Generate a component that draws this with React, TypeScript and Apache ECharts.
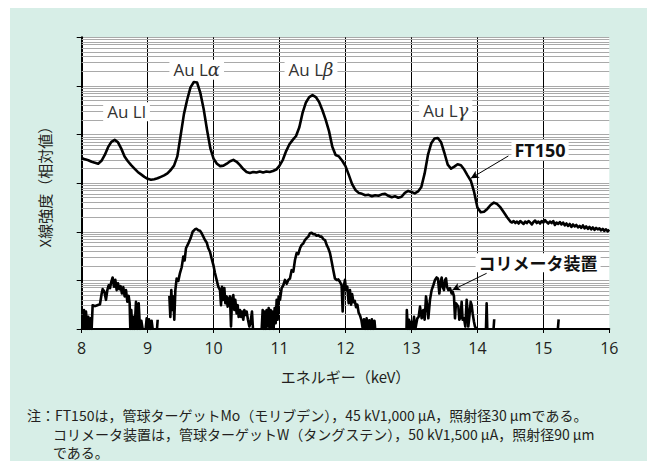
import React, { useEffect, useRef } from 'react';
import * as echarts from 'echarts';

// Energy axis (keV)
const xMin = 8;
const xMax = 16;
// Intensity axis, in decades of relative intensity (log10)
const yMin = 0;
const yMax = 6;

// FT150 spectrum: [keV, log10 relative intensity]
const ft150: [number, number][] = [
  [8.0, 3.52], [8.05, 3.49], [8.1, 3.47], [8.15, 3.44], [8.2, 3.42], [8.25, 3.4],
  [8.3, 3.46], [8.35, 3.58], [8.4, 3.74], [8.45, 3.85], [8.5, 3.89], [8.55, 3.84],
  [8.6, 3.71], [8.65, 3.55], [8.7, 3.45], [8.75, 3.37], [8.8, 3.3], [8.85, 3.23],
  [8.9, 3.18], [8.95, 3.13], [9.0, 3.09], [9.05, 3.07], [9.1, 3.08], [9.15, 3.1],
  [9.2, 3.13], [9.25, 3.16], [9.3, 3.2], [9.35, 3.27], [9.4, 3.36], [9.45, 3.55],
  [9.5, 3.98], [9.55, 4.42], [9.6, 4.72], [9.65, 4.97], [9.7, 5.08], [9.75, 5.07],
  [9.8, 4.85], [9.85, 4.52], [9.9, 4.1], [9.95, 3.72], [10.0, 3.5], [10.05, 3.4],
  [10.1, 3.35], [10.15, 3.36], [10.2, 3.4], [10.25, 3.45], [10.3, 3.48], [10.35, 3.44],
  [10.4, 3.37], [10.45, 3.29], [10.5, 3.23], [10.55, 3.21], [10.6, 3.23], [10.65, 3.22],
  [10.7, 3.24], [10.75, 3.22], [10.8, 3.24], [10.85, 3.23], [10.9, 3.25], [10.95, 3.28],
  [11.0, 3.36], [11.05, 3.48], [11.1, 3.66], [11.15, 3.8], [11.2, 3.89], [11.25, 3.97],
  [11.3, 4.15], [11.35, 4.45], [11.4, 4.66], [11.45, 4.77], [11.5, 4.81], [11.55, 4.77],
  [11.6, 4.67], [11.65, 4.5], [11.7, 4.3], [11.75, 4.07], [11.8, 3.75], [11.85, 3.58],
  [11.9, 3.55], [11.95, 3.46], [12.0, 3.35], [12.05, 3.17], [12.1, 2.98], [12.15, 2.86],
  [12.2, 2.8], [12.25, 2.78], [12.3, 2.75], [12.35, 2.76], [12.4, 2.73], [12.45, 2.75],
  [12.5, 2.74], [12.55, 2.77], [12.6, 2.78], [12.65, 2.74], [12.7, 2.71], [12.75, 2.73],
  [12.8, 2.7], [12.85, 2.72], [12.9, 2.8], [12.95, 2.84], [13.0, 2.82], [13.05, 2.79],
  [13.1, 2.83], [13.15, 2.92], [13.2, 3.2], [13.25, 3.58], [13.3, 3.82], [13.35, 3.92],
  [13.4, 3.93], [13.45, 3.84], [13.5, 3.62], [13.55, 3.38], [13.6, 3.3], [13.65, 3.34],
  [13.7, 3.39], [13.75, 3.37], [13.8, 3.28], [13.85, 3.16], [13.9, 3.05], [13.95, 2.82],
  [14.0, 2.5], [14.05, 2.4], [14.1, 2.41], [14.15, 2.47], [14.2, 2.55], [14.25, 2.6],
  [14.3, 2.57], [14.35, 2.5], [14.4, 2.4], [14.45, 2.3], [14.5, 2.21], [14.525, 2.19],
  [14.55, 2.22], [14.575, 2.18], [14.6, 2.21], [14.625, 2.17], [14.65, 2.22], [14.675, 2.19],
  [14.7, 2.16], [14.725, 2.21], [14.75, 2.18], [14.775, 2.22], [14.8, 2.19], [14.825, 2.15],
  [14.85, 2.2], [14.875, 2.23], [14.9, 2.18], [14.925, 2.21], [14.95, 2.17], [14.975, 2.22],
  [15.0, 2.19], [15.025, 2.24], [15.05, 2.2], [15.075, 2.17], [15.1, 2.21], [15.125, 2.18],
  [15.15, 2.22], [15.175, 2.14], [15.2, 2.19], [15.225, 2.16], [15.25, 2.2], [15.275, 2.15],
  [15.3, 2.19], [15.325, 2.13], [15.35, 2.17], [15.375, 2.12], [15.4, 2.16], [15.425, 2.1],
  [15.45, 2.15], [15.475, 2.11], [15.5, 2.14], [15.525, 2.09], [15.55, 2.12], [15.575, 2.08],
  [15.6, 2.13], [15.625, 2.07], [15.65, 2.11], [15.675, 2.06], [15.7, 2.1], [15.725, 2.05],
  [15.75, 2.09], [15.775, 2.04], [15.8, 2.08], [15.825, 2.05], [15.85, 2.07], [15.875, 2.03],
  [15.9, 2.06], [15.925, 2.02], [15.95, 2.05], [15.975, 2.01], [16.0, 2.04],
];

// Collimator spectrum: [keV, log10 relative intensity]; null = no counts (line break)
const collimator: ([number, number] | null)[] = [
  [8.015, 0.01], [8.035, 0.39], [8.055, 0.0], [8.065, 0.36], [8.085, 0.0], [8.1, 0.25],
  [8.116, 0.0], [8.136, 0.22], [8.151, 0.0], [8.166, 0.49], [8.202, 0.47], [8.237, 0.49],
  [8.277, 0.51], [8.303, 0.73], [8.318, 0.82], [8.343, 0.77], [8.368, 0.6], [8.389, 0.8],
  [8.409, 0.9], [8.429, 0.84], [8.449, 0.97], [8.469, 1.06], [8.49, 0.87], [8.51, 1.01],
  [8.53, 0.8], [8.55, 0.94], [8.57, 0.82], [8.59, 0.88], [8.61, 0.73], [8.631, 0.86],
  [8.651, 0.67], [8.672, 0.8], [8.692, 0.56], [8.712, 0.68], [8.727, 0.53], [8.737, 0.0],
  [8.752, 0.39], [8.768, 0.0], [8.783, 0.25], [8.803, 0.0], [8.823, 0.56], [8.843, 0.0],
  [8.864, 0.53], [8.884, 0.0], [8.904, 0.17], [8.924, 0.0], null,
  [8.97, 0.0], [8.985, 0.22], [9.0, 0.0], [9.02, 0.2], [9.04, 0.0], [9.06, 0.17], [9.076, 0.0], null,
  [9.142, 0.0], [9.152, 0.19], null,
  [9.329, 0.68], [9.344, 0.25], [9.359, 0.8], [9.374, 0.39], [9.389, 0.67], [9.404, 0.19],
  [9.42, 0.8], [9.44, 1.04], [9.465, 0.99], [9.49, 1.15], [9.516, 1.27], [9.541, 1.49],
  [9.561, 1.41], [9.581, 1.66], [9.617, 1.76], [9.652, 1.87], [9.682, 2.0], [9.718, 2.05],
  [9.743, 2.06], [9.768, 2.03], [9.794, 2.02], [9.819, 1.97], [9.844, 1.9], [9.869, 1.83],
  [9.895, 1.78], [9.92, 1.66], [9.945, 1.59], [9.97, 1.45], [9.996, 1.32], [10.021, 1.15],
  [10.046, 1.01], [10.071, 0.87], [10.097, 0.8], [10.112, 0.49], [10.127, 0.87], [10.147, 0.6],
  [10.163, 0.84], [10.178, 0.53], [10.198, 0.67], [10.213, 0.46], [10.228, 0.61], [10.248, 0.67],
  [10.264, 0.05], [10.279, 0.6], [10.299, 0.7], [10.314, 0.39], [10.329, 0.6], [10.349, 0.32],
  [10.365, 0.49], [10.38, 0.25], [10.4, 0.39], [10.415, 0.25], [10.43, 0.36], [10.45, 0.19],
  [10.466, 0.39], [10.486, 0.29], [10.501, 0.36], [10.521, 0.19], [10.542, 0.05], [10.562, 0.15],
  [10.582, 0.36], [10.597, 0.0], null,
  [10.729, 0.0], [10.744, 0.39], [10.759, 0.0], [10.774, 0.36], [10.789, 0.0], [10.804, 0.39],
  [10.82, 0.05], [10.835, 0.43], [10.85, 0.0], [10.865, 0.39], [10.88, 0.01], [10.895, 0.36],
  [10.91, 0.0], [10.926, 0.43], [10.941, 0.12], [10.956, 0.6], [10.971, 0.19], [10.986, 0.67],
  [11.007, 0.6], [11.032, 0.84], [11.057, 0.9], [11.082, 1.01], [11.108, 0.93], [11.133, 1.01],
  [11.158, 1.04], [11.183, 1.21], [11.209, 1.18], [11.234, 1.42], [11.259, 1.56], [11.284, 1.54],
  [11.31, 1.66], [11.335, 1.73], [11.36, 1.76], [11.385, 1.83], [11.411, 1.87], [11.436, 1.9],
  [11.461, 1.97], [11.486, 1.98], [11.512, 1.95], [11.537, 1.95], [11.562, 1.92], [11.588, 1.93],
  [11.613, 1.9], [11.638, 1.9], [11.663, 1.85], [11.689, 1.83], [11.714, 1.73], [11.739, 1.66],
  [11.765, 1.56], [11.79, 1.39], [11.815, 1.21], [11.84, 1.04], [11.866, 1.01], [11.891, 1.02],
  [11.916, 0.97], [11.941, 0.9], [11.957, 0.36], [11.972, 0.87], [11.992, 1.01], [12.007, 0.8],
  [12.027, 0.87], [12.048, 0.53], [12.068, 0.8], [12.085, 0.5], [12.1, 0.72], [12.12, 0.55],
  [12.14, 0.58], [12.16, 0.45], [12.18, 0.5], [12.2, 0.33], [12.22, 0.28], [12.24, 0.19],
  [12.26, 0.02], [12.28, 0.2], [12.3, 0.0], [12.32, 0.22], [12.34, 0.0], [12.36, 0.18],
  [12.38, 0.0], [12.4, 0.2], [12.42, 0.0], [12.44, 0.17], [12.45, 0.0], null,
  [12.925, 0.0], [12.93, 0.39], [12.945, 0.0], [12.963, 0.19], [12.978, 0.0], [12.998, 0.15],
  [13.018, 0.0], [13.039, 0.25], [13.059, 0.0], [13.089, 0.22], [13.109, 0.25], [13.13, 0.46],
  [13.155, 0.22], [13.18, 0.39], [13.2, 0.19], [13.221, 0.67], [13.241, 0.46], [13.256, 0.22],
  [13.281, 0.6], [13.306, 0.8], [13.332, 0.9], [13.357, 1.01], [13.382, 1.06], [13.402, 1.04],
  [13.423, 0.73], [13.443, 0.97], [13.458, 1.06], [13.473, 0.87], [13.493, 0.8], [13.509, 1.01],
  [13.524, 1.04], [13.539, 0.87], [13.559, 0.8], [13.584, 0.84], [13.61, 0.73], [13.625, 0.77],
  [13.645, 0.67], [13.66, 0.22], [13.675, 0.53], [13.696, 0.49], [13.711, 0.46], [13.726, 0.19],
  [13.746, 0.25], [13.761, 0.56], [13.776, 0.19], [13.797, 0.22], [13.817, 0.05], [13.837, 0.6],
  [13.852, 0.36], [13.862, 0.05], [13.878, 0.25], [13.898, 0.56], [13.913, 0.49], [13.928, 0.32],
  [13.948, 0.15], [13.963, 0.05], [13.989, 0.0], null,
  [14.13, 0.0], [14.14, 0.53], [14.15, 0.0], null,
  [14.245, 0.0], [14.255, 0.2], null,
  [15.22, 0.0], [15.232, 0.2],
];

const peakNames = ['Au Ll', 'Au Lα', 'Au Lβ', 'Au Lγ'];
const seriesNames = ['FT150', 'コリメータ装置'];
const noteLines = [
  '注：FT150は，管球ターゲットMo（モリブデン），45 kV1,000 µA，照射径30 µmである。',
  'コリメータ装置は，管球ターゲットW（タングステン），50 kV1,500 µA，照射径90 µm',
  'である。',
];

const FONT = "'Noto Sans CJK JP', 'Noto Sans', sans-serif";
const LATIN = "'Open Sans', 'Noto Sans', sans-serif";
const INK = '#231f20';
const GRID_GRAY = '#a9a9a9';

export default function App() {
  const ref = useRef<HTMLDivElement>(null);

  useEffect(() => {
    if (!ref.current) return;
    const chart = echarts.init(ref.current, undefined, { renderer: 'svg' });

    // log-style minor gridlines inside each decade
    const minorLines: { yAxis: number }[] = [];
    for (let n = yMin; n < yMax; n++) {
      for (let k = 2; k <= 9; k++) minorLines.push({ yAxis: n + Math.log10(k) });
    }

    const peakLabel = (name: string) => {
      const base = name.slice(0, -1);
      const last = name.slice(-1);
      const greek = /[αβγ]/.test(last);
      return greek ? `{n|${base}}{g|${last}}` : `{n|${name}}`;
    };

    const peakPos: [number, number][] = [
      [8.68, 4.47],
      [9.744, 5.33],
      [11.477, 5.33],
      [13.52, 4.5],
    ];

    const labelRich = {
      n: { fontSize: 17, fontFamily: LATIN, color: '#333' },
      g: { fontSize: 18, fontFamily: 'DejaVu Serif, serif', fontStyle: 'italic', color: '#333' },
    };

    const noteStyle = {
      fill: INK,
      fontFamily: FONT,
      fontSize: 14,
      lineHeight: 18.5,
      verticalAlign: 'middle',
    };

    chart.setOption({
      animation: false,
      grid: {
        left: 81.7,
        right: 37.7,
        top: 37.3,
        bottom: 132,
        show: true,
        backgroundColor: '#ffffff',
        borderWidth: 0,
      },
      xAxis: {
        type: 'value',
        min: xMin,
        max: xMax,
        interval: 1,
        name: 'エネルギー（keV）',
        nameLocation: 'middle',
        nameGap: 40,
        nameTextStyle: { fontFamily: FONT, fontSize: 15, color: INK },
        axisLine: { show: true, onZero: false, lineStyle: { color: '#000', width: 2 } },
        axisTick: { show: true, length: 4, lineStyle: { color: '#000', width: 1 } },
        axisLabel: { fontFamily: LATIN, fontSize: 16, color: INK, margin: 11 },
        splitLine: {
          show: true,
          showMinLine: false,
          showMaxLine: false,
          lineStyle: { color: '#000', width: 1 },
        },
      },
      yAxis: {
        type: 'value',
        min: yMin,
        max: yMax,
        interval: 1,
        name: 'X線強度（相対値）',
        nameLocation: 'middle',
        nameRotate: 90,
        nameGap: 30,
        nameTextStyle: { fontFamily: FONT, fontSize: 15, color: INK },
        axisLine: { show: true, lineStyle: { color: '#000', width: 2 } },
        axisTick: { show: true, length: 5, lineStyle: { color: '#000', width: 1 } },
        axisLabel: { show: false },
        splitLine: { show: true, lineStyle: { color: GRID_GRAY, width: 1 } },
      },
      series: [
        {
          name: seriesNames[1],
          type: 'line',
          data: collimator,
          showSymbol: false,
          symbol: 'none',
          connectNulls: false,
          z: 3,
          lineStyle: { color: '#000', width: 2.6, join: 'round' },
          markLine: {
            z: 1,
            silent: true,
            symbol: ['none', 'none'],
            label: { show: false },
            lineStyle: { color: GRID_GRAY, width: 1, type: 'solid' },
            emphasis: { disabled: true },
            data: minorLines,
          },
          markPoint: {
            silent: true,
            symbol: 'rect',
            symbolSize: 1,
            itemStyle: { color: 'rgba(0,0,0,0)' },
            label: {
              show: true,
              position: 'inside',
              fontFamily: FONT,
              fontSize: 17,
              fontWeight: 'bold',
              color: '#111',
              backgroundColor: '#fff',
              padding: [1, 3],
              formatter: (p: any) => p.name,
            },
            data: [{ name: seriesNames[1], coord: [14.92, 1.364] }],
          },
        },
        {
          name: seriesNames[0],
          type: 'line',
          data: ft150,
          showSymbol: false,
          symbol: 'none',
          z: 3,
          lineStyle: { color: '#000', width: 2.6, join: 'round' },
          markLine: {
            silent: true,
            symbol: ['none', 'arrow'],
            symbolSize: [6, 8],
            label: { show: false },
            lineStyle: { color: '#000', width: 1, type: 'solid' },
            emphasis: { disabled: true },
            data: [
              [{ coord: [14.47, 3.56] }, { coord: [13.9, 3.1] }],
              [{ coord: [14.14, 1.146] }, { coord: [13.62, 0.8] }],
            ],
          },
          markPoint: {
            silent: true,
            symbol: 'rect',
            symbolSize: 1,
            itemStyle: { color: 'rgba(0,0,0,0)' },
            label: {
              show: true,
              position: 'inside',
              backgroundColor: '#fff',
              padding: [1, 4],
              rich: labelRich,
              formatter: (p: any) => peakLabel(p.name),
            },
            data: [
              ...peakNames.map((nm, i) => ({ name: nm, coord: peakPos[i] })),
              {
                name: seriesNames[0],
                coord: [14.95, 3.68],
                label: {
                  formatter: (p: any) => p.name,
                  fontFamily: LATIN,
                  fontSize: 18,
                  fontWeight: 'bold',
                  color: '#111',
                  padding: [1, 3],
                },
              },
            ],
          },
        },
      ],
      graphic: [
        {
          type: 'text',
          x: 27,
          y: 415,
          silent: true,
          style: { ...noteStyle, text: noteLines[0] },
        },
        {
          type: 'text',
          x: 53,
          y: 442.75,
          silent: true,
          style: { ...noteStyle, text: noteLines[1] + '\n' + noteLines[2] },
        },
      ],
    });

    return () => chart.dispose();
  }, []);

  return (
    <div style={{ position: 'absolute', left: 0, top: 0, width: 647, height: 461, background: '#fff', overflow: 'hidden' }}>
      <div style={{ position: 'absolute', left: 10, top: 8, right: 0, bottom: 0, background: '#d7eee7' }} />
      <div ref={ref} style={{ position: 'absolute', left: 0, top: 0, width: 647, height: 461 }} />
    </div>
  );
}
